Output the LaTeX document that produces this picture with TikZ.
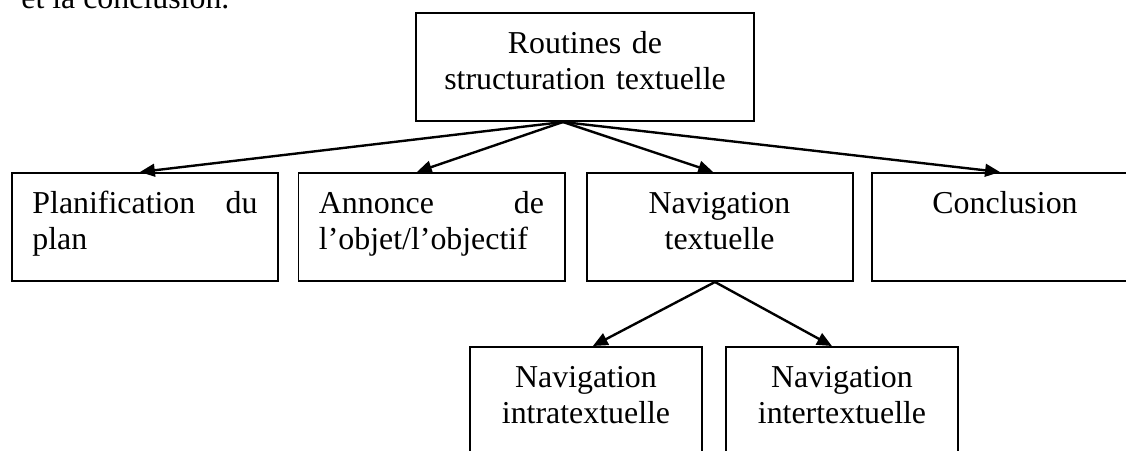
\documentclass[tikz,border=0pt]{standalone}
\usepackage{fontspec}
\setmainfont{Liberation Serif}
\usepackage{tikz}
\usetikzlibrary{arrows.meta}

\hyphenpenalty=10000
\tolerance=9999

\tikzset{
    bloc/.style={draw, line width=0.75pt, inner xsep=7.7pt, inner ysep=0pt,
        text height=15.06pt, text depth=25.6pt,
        font=\fontsize{12}{13.9}\selectfont},
    blocmid/.style={bloc, text width=84.75pt},
    bloctop/.style={bloc, text width=111.85pt, align=center},
    blocbas/.style={bloc, text width=71.95pt, align=center},
}

\begin{document}
\begin{tikzpicture}[x=0.3765pt, y=-0.3765pt, >={Triangle[length=5.6pt,width=4.8pt]}]
    \useasboundingbox (0,0) rectangle (1126,450);

    \node[anchor=base west, font=\fontsize{12}{13.9}\selectfont] (suite) at (12,8) {et la conclusion.};

    \node[bloctop] (RST) at (585,67) {Routines de\\structuration textuelle};

        \node[blocmid, align=justify] (PLAN) at (145,227) {Planification du plan};
        \node[blocmid, align=justify] (ANN) at (431.5,227) {Annonce de l’objet/l’objectif};
        \node[blocmid, align=center] (NAV) at (719.5,227) {Navigation\\textuelle};
        \node[blocmid, align=center] (CONC) at (1005,227) {Conclusion};

        \node[blocbas] (INTRA) at (586,401) {Navigation\\intratextuelle};
        \node[blocbas] (INTER) at (842,401) {Navigation\\intertextuelle};


        \draw[->, line width=0.9pt] ([xshift=-8.3pt]RST.south) -- ([xshift=-1.9pt]PLAN.north);
        \draw[->, line width=0.9pt] ([xshift=-8.3pt]RST.south) -- ([xshift=-5.5pt]ANN.north);
        \draw[->, line width=0.9pt] ([xshift=-8.3pt]RST.south) -- ([xshift=-2.4pt]NAV.north);
        \draw[->, line width=0.9pt] ([xshift=-8.3pt]RST.south) -- ([xshift=-1.9pt]CONC.north);

        \draw[->, line width=0.9pt] ([xshift=-1.7pt]NAV.south) -- ([xshift=2.6pt]INTRA.north);
        \draw[->, line width=0.9pt] ([xshift=-1.7pt]NAV.south) -- ([xshift=-3.8pt]INTER.north);

\end{tikzpicture}
\end{document}
